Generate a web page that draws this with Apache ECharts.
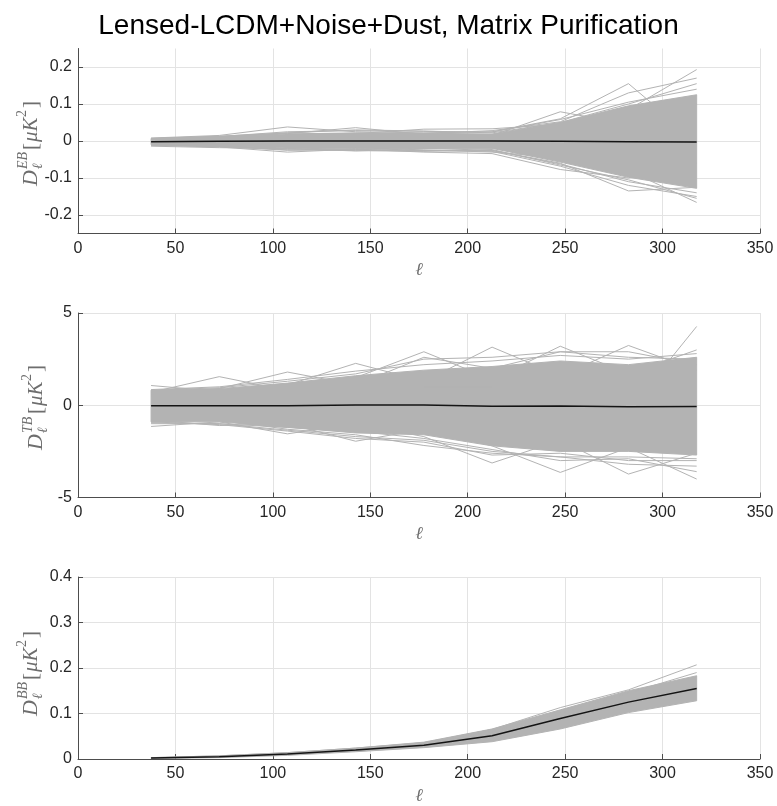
<!DOCTYPE html>
<html>
<head>
<meta charset="utf-8">
<script src="https://cdn.jsdelivr.net/npm/echarts@6/dist/echarts.min.js"></script>
<style>
    html, body { margin: 0; padding: 0; background: #fff; }
    #chart { width: 777px; height: 806px; }
</style>
</head>
<body>
<div id="chart"></div>
<script>
// multipole bin centres
const ell = [37.5, 72.5, 107.5, 142.5, 177.5, 212.5, 247.5, 282.5, 317.5]
const xTicks = [0, 50, 100, 150, 200, 250, 300, 350]

// EB panel
const ebMean = [-0.002, -0.001, 0.000, 0.000, 0.000, 0.000, -0.001, -0.002, -0.003]
const ebBandHi = [0.007, 0.011, 0.019, 0.022, 0.021, 0.019, 0.050, 0.095, 0.125]
const ebBandLo = [-0.010, -0.013, -0.019, -0.020, -0.020, -0.020, -0.057, -0.098, -0.128]
const ebLines = [
    [0.008, 0.015, 0.038, 0.025, 0.022, 0.025, 0.060, 0.155, 0.000],
    [0.005, 0.012, 0.020, 0.036, 0.018, 0.015, 0.079, 0.045, 0.100],
    [0.004, 0.010, 0.015, 0.020, 0.032, 0.033, 0.045, 0.085, 0.193],
    [0.006, 0.010, 0.022, 0.018, 0.020, 0.028, 0.052, 0.130, 0.170],
    [0.006, 0.012, 0.025, 0.028, 0.026, 0.024, 0.058, 0.105, 0.140],
    [0.007, 0.013, 0.022, 0.030, 0.027, 0.022, 0.050, 0.100, 0.155],
    [-0.012, -0.016, -0.030, -0.022, -0.030, -0.034, -0.077, -0.100, -0.060],
    [-0.014, -0.018, -0.020, -0.027, -0.020, -0.025, -0.060, -0.135, -0.125],
    [-0.008, -0.012, -0.022, -0.018, -0.024, -0.030, -0.045, -0.080, -0.166],
    [-0.010, -0.015, -0.025, -0.024, -0.026, -0.028, -0.068, -0.120, -0.150],
    [-0.011, -0.014, -0.024, -0.023, -0.025, -0.026, -0.062, -0.110, -0.140],
    [-0.009, -0.013, -0.021, -0.026, -0.028, -0.023, -0.065, -0.105, -0.155]
]
const ebTicks = [-0.2, -0.1, 0, 0.1, 0.2]

// TB panel
const tbMean = [-0.03, -0.03, -0.03, 0.02, 0.02, -0.05, -0.04, -0.08, -0.07]
const tbBandHi = [0.82, 0.90, 1.20, 1.60, 1.90, 2.10, 2.40, 2.20, 2.60]
const tbBandLo = [-0.90, -0.90, -1.20, -1.50, -1.60, -2.20, -2.50, -2.50, -2.70]
const tbLines = [
    [1.07, 0.75, 1.10, 2.27, 1.30, 3.15, 1.60, 3.24, 1.90],
    [0.70, 1.55, 0.80, 1.50, 2.90, 1.40, 3.20, 1.70, 3.00],
    [0.60, 0.90, 1.80, 1.10, 2.60, 2.00, 2.90, 2.90, 2.20],
    [0.50, 0.60, 0.90, 1.20, 1.00, 1.00, 1.80, -0.30, 4.27],
    [0.85, 1.00, 1.40, 1.85, 2.20, 2.40, 2.70, 2.50, 2.80],
    [0.80, 0.95, 1.30, 1.70, 2.50, 2.60, 2.90, 2.60, 2.50],
    [-1.15, -0.90, -1.55, -1.00, -1.70, -3.13, -1.90, -3.73, -2.60],
    [-0.80, -1.10, -1.00, -1.95, -1.30, -2.20, -3.64, -2.30, -4.00],
    [-0.90, -0.80, -1.30, -1.60, -2.18, -2.60, -2.80, -3.20, -3.30],
    [-1.00, -1.00, -1.20, -1.40, -1.80, -2.40, -3.00, -2.90, -3.60],
    [-0.95, -1.00, -1.35, -1.70, -1.90, -2.50, -2.80, -2.80, -2.90],
    [-0.90, -1.05, -1.40, -1.80, -2.00, -2.70, -2.60, -3.00, -3.00]
]

// BB panel
const bbMean = [0.002, 0.005, 0.011, 0.020, 0.030, 0.051, 0.089, 0.125, 0.155]
const bbBandHi = [0.003, 0.007, 0.014, 0.024, 0.037, 0.066, 0.108, 0.150, 0.183]
const bbBandLo = [0.001, 0.003, 0.008, 0.016, 0.025, 0.038, 0.066, 0.102, 0.128]
const bbLines = [
    [0.003, 0.007, 0.014, 0.024, 0.036, 0.065, 0.113, 0.152, 0.207],
    [0.002, 0.006, 0.012, 0.022, 0.033, 0.060, 0.100, 0.145, 0.190]
]

const gray = '#b3b3b3'
const axisColor = '#4d4d4d'
const tickColor = '#262626'
const labelColor = '#6e6e6e'
const sans = '"Liberation Sans", Arial, sans-serif'
const serif = '"Liberation Serif", "DejaVu Serif", serif'

const pairs = (ys) => ell.map((x, i) => [x, ys[i]])

const mChart = echarts.init(document.getElementById('chart'), null, { renderer: 'canvas' })

const grids = [
    { left: 78, width: 682, top: 48.5, height: 185 },
    { left: 78, width: 682, top: 313, height: 184.5 },
    { left: 78, width: 682, top: 577, height: 184 }
]

const xAxisOf = (i) => ({
    gridIndex: i,
    type: 'value',
    min: xTicks[0],
    max: xTicks[xTicks.length - 1],
    interval: 50,
    name: 'ℓ',
    nameLocation: 'middle',
    nameGap: 28,
    nameTextStyle: { fontFamily: serif, fontStyle: 'italic', fontSize: 18, color: labelColor },
    axisLine: { show: true, onZero: false, lineStyle: { color: axisColor, width: 1 } },
    axisTick: { show: true, inside: true, length: 5, lineStyle: { color: axisColor } },
    axisLabel: { fontSize: 16, color: tickColor, fontFamily: sans, margin: 7, showMinLabel: true, showMaxLabel: true },
    splitLine: { show: true, lineStyle: { color: '#e3e3e3', width: 1 } }
})

const yAxisBase = (i) => ({
    gridIndex: i,
    type: 'value',
    axisLine: { show: true, onZero: false, lineStyle: { color: axisColor, width: 1 } },
    axisTick: { show: true, inside: true, length: 5, lineStyle: { color: axisColor } },
    axisLabel: { fontSize: 16, color: tickColor, fontFamily: sans, margin: 6, showMinLabel: true, showMaxLabel: true },
    splitLine: { show: true, lineStyle: { color: '#e3e3e3', width: 1 } }
})

const yAxes = [
    Object.assign(yAxisBase(0), { min: -0.25, max: 0.25 }),
    Object.assign(yAxisBase(1), { min: -5, max: 5, interval: 5 }),
    Object.assign(yAxisBase(2), { min: 0, max: 0.4, interval: 0.1 })
]
// EB axis runs to +-0.25 but is ticked every 0.1
yAxes[0].axisTick.customValues = ebTicks
yAxes[0].axisLabel.customValues = ebTicks

// series for one panel: dense band (polygon hi -> lo), outlying realisations, mean
const panelSeries = (i, lo, hi, lines, mean) => {
    const out = []
    out.push({
        type: 'custom', xAxisIndex: i, yAxisIndex: i, silent: true, z: 2,
        data: [[ell[0], hi[0]]],
        renderItem: (params, api) => {
            const top = hi.map((v, k) => api.coord([ell[k], v]))
            const bot = lo.map((v, k) => api.coord([ell[k], v])).reverse()
            return {
                type: 'polygon',
                shape: { points: top.concat(bot) },
                style: { fill: gray, stroke: gray, lineWidth: 1 }
            }
        }
    })
    lines.forEach(ys => {
        out.push({
            type: 'line', xAxisIndex: i, yAxisIndex: i, data: pairs(ys),
            symbol: 'none', silent: true, lineStyle: { color: gray, width: 1 }, z: 2
        })
    })
    out.push({
        type: 'line', xAxisIndex: i, yAxisIndex: i, data: pairs(mean),
        symbol: 'none', silent: true, lineStyle: { color: '#141414', width: 1.5 }, z: 3
    })
    return out
}

// rotated y label D_l^{XY}[uK^2]
const yLabel = (sup, cx, cy) => ({
    type: 'group', x: cx, y: cy, rotation: Math.PI / 2, silent: true,
    children: [
        { type: 'text', style: { text: 'D', x: -46, y: 0, font: 'italic 22px ' + serif, fill: labelColor, verticalAlign: 'middle' } },
        { type: 'text', style: { text: sup, x: -29, y: -8, font: 'italic 14px ' + serif, fill: labelColor, verticalAlign: 'middle' } },
        { type: 'text', style: { text: 'ℓ', x: -29, y: 7, font: 'italic 14px ' + serif, fill: labelColor, verticalAlign: 'middle' } },
        { type: 'text', style: { text: '[', x: -10, y: 0, font: '21px ' + serif, fill: labelColor, verticalAlign: 'middle' } },
        { type: 'text', style: { text: 'μK', x: -2, y: 0, font: 'italic 21px ' + serif, fill: labelColor, verticalAlign: 'middle' } },
        { type: 'text', style: { text: '2', x: 23, y: -9, font: '14px ' + serif, fill: labelColor, verticalAlign: 'middle' } },
        { type: 'text', style: { text: ']', x: 32, y: 0, font: '21px ' + serif, fill: labelColor, verticalAlign: 'middle' } }
    ]
})

const option = {
    backgroundColor: '#ffffff',
    animation: false,
    title: {
        text: 'Lensed-LCDM+Noise+Dust, Matrix Purification',
        left: 'center',
        top: 7,
        textStyle: { fontFamily: sans, fontSize: 28, fontWeight: 'normal', color: '#000' }
    },
    grid: grids,
    xAxis: [xAxisOf(0), xAxisOf(1), xAxisOf(2)],
    yAxis: yAxes,
    graphic: [
        yLabel('EB', 31, 140),
        yLabel('TB', 36, 404),
        yLabel('BB', 31, 670)
    ],
    series: [
        ...panelSeries(0, ebBandLo, ebBandHi, ebLines, ebMean),
        ...panelSeries(1, tbBandLo, tbBandHi, tbLines, tbMean),
        ...panelSeries(2, bbBandLo, bbBandHi, bbLines, bbMean)
    ]
}
mChart.setOption(option)
</script>
</body>
</html>
